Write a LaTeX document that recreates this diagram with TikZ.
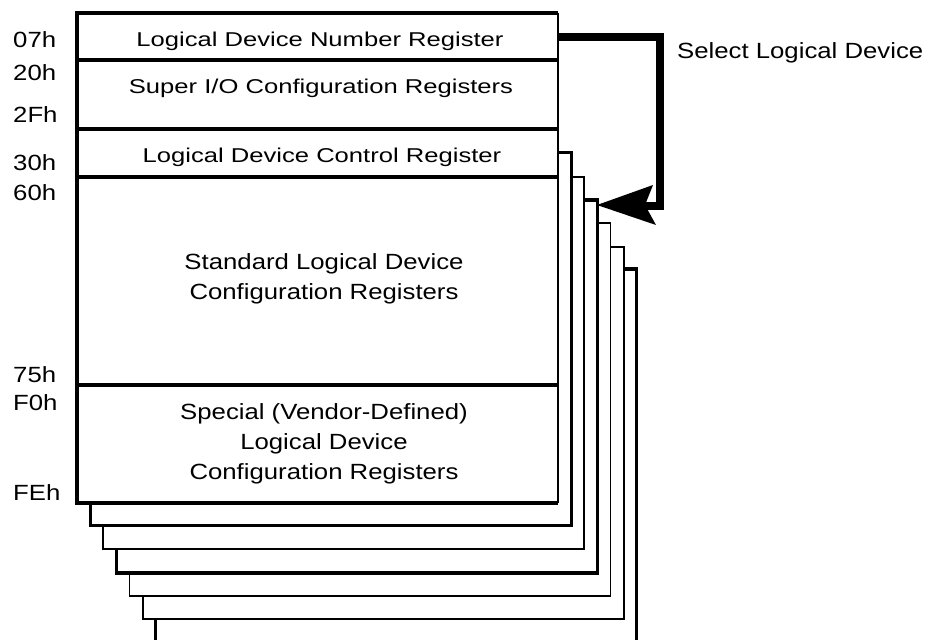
\documentclass[tikz,border=0pt]{standalone}
\usepackage{fontspec}
\setmainfont{Liberation Sans}
\usepackage{graphicx}
\newcommand{\stretchA}[1]{\scalebox{1.17}[1]{#1}}
\newcommand{\stretchB}[1]{\scalebox{1.28}[1]{#1}}
\begin{document}
\begin{tikzpicture}[x=1pt,y=-1pt,
  thickln/.style={line width=3.2pt},
  thinln/.style={line width=1.6pt},
  bigtxt/.style={font=\fontsize{22}{30}\selectfont, align=center, inner sep=0pt},
  rowtxt/.style={font=\fontsize{20}{24}\selectfont, inner sep=0pt},
  addr/.style={font=\fontsize{22}{26}\selectfont, anchor=west, inner sep=0pt},
  selarrow/.style={line width=8.5pt, line join=miter, line cap=butt}]
\useasboundingbox (0,0) rectangle (925,639);
\begin{scope}
\clip (0,0) rectangle (925,639);
% stacked logical device pages (back to front)
\foreach \k/\t/\b/\w in {6/269/643/3.2, 5/247/619/2.0, 4/223/596/1.7, 3/200/573/3.2, 2/177/549/2.2, 1/153/525/3.0}{
  \pgfmathsetmacro{\lft}{77+13.1*\k}
  \pgfmathsetmacro{\rgt}{558+13.1*\k}
  \draw[fill=white, line width=\w pt] (\lft,\t) rectangle (\rgt,\b);
}
\end{scope}
% main box
\fill[white] (77,13) rectangle (558,503);
\draw[thinln] (558,13) -- (558,503);
\draw[thickln] (558,13) -- (77,13) -- (77,503) -- (558,503);
\draw[thickln] (77,60) -- (558,60);
\draw[thickln] (77,129) -- (558,129);
\draw[thickln] (77,177) -- (558,177);
\draw[thickln] (77,385) -- (558,385);
% row texts
\node[rowtxt] (ldn) at (320,41) {\stretchB{Logical Device Number Register}};
\node[rowtxt] (sio) at (321,88) {\stretchB{Super I/O Configuration Registers}};
\node[rowtxt] (ldc) at (322,157) {\stretchB{Logical Device Control Register}};
\node[bigtxt] (std) at (324,279) {\stretchA{Standard Logical Device}\\\stretchA{Configuration Registers}};
\node[bigtxt] (spc) at (324,444) {\stretchA{Special (Vendor-Defined)}\\\stretchA{Logical Device}\\\stretchA{Configuration Registers}};
% address labels
\node[addr] (a07) at (13,40) {\stretchA{07h}};
\node[addr] (a20) at (13,73) {\stretchA{20h}};
\node[addr] (a2F) at (13,115) {\stretchA{2Fh}};
\node[addr] (a30) at (13,163) {\stretchA{30h}};
\node[addr] (a60) at (13,193) {\stretchA{60h}};
\node[addr] (a75) at (13,375) {\stretchA{75h}};
\node[addr] (aF0) at (13,403) {\stretchA{F0h}};
\node[addr] (aFE) at (13,493) {\stretchA{FEh}};
% select arrow
\coordinate (src) at (558,37);
\coordinate (bend1) at (660,37);
\coordinate (bend2) at (660,206);
\coordinate (shaftend) at (644,206);
\coordinate (tip) at (597,205);
\draw[selarrow] (src) -- (bend1) -- (bend2) -- (shaftend);
\fill (tip) -- (653,185) -- (645,205) -- (656,225) -- cycle;
\node[font=\fontsize{22}{26}\selectfont, anchor=west, inner sep=0pt] (sel) at (677,53) {\stretchA{Select Logical Device}};
\end{tikzpicture}
\end{document}
